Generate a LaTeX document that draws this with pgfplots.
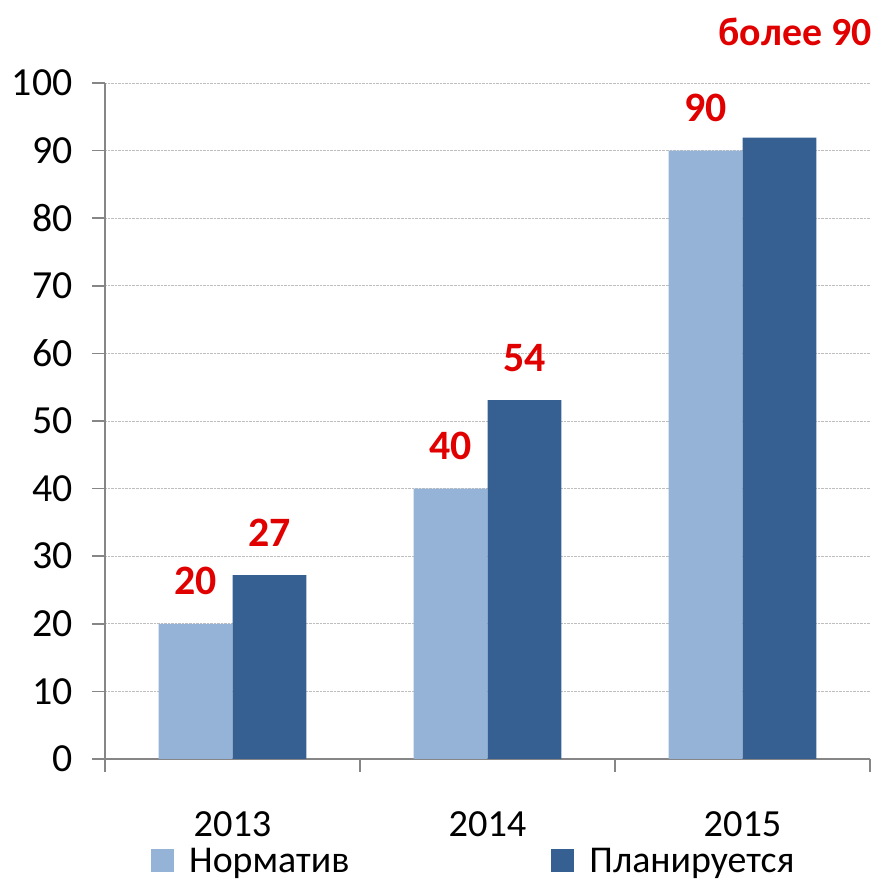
\documentclass[border=0pt]{standalone}
\usepackage{fontspec}
\setmainfont{Carlito}
\usepackage{pgfplots}
\pgfplotsset{compat=1.18}
\definecolor{lightbar}{RGB}{149,179,215}
\definecolor{darkbar}{RGB}{55,96,146}
\definecolor{axisgray}{RGB}{134,134,134}
\definecolor{gridgray}{RGB}{190,190,190}
\definecolor{labred}{RGB}{224,0,0}
\begin{document}
\begin{tikzpicture}
\path[use as bounding box] (0,0) rectangle (875bp,885bp);
\begin{axis}[
  name=ax,
  at={(105bp,126bp)}, anchor=south west,
  scale only axis, width=765bp, height=676bp,
  xmin=-0.5, xmax=2.5, ymin=0, ymax=100,
  ytick={0,10,...,100},
  xtick={-0.5,0.5,1.5,2.5}, xticklabels={},
  extra x ticks={0,1,2}, extra x tick labels={2013,2014,2015},
  extra x tick style={major tick length=0pt, grid=none,
     xticklabel style={anchor=base, yshift=-77bp, inner sep=0pt, text depth=0pt}},
  axis x line*=bottom, axis y line*=left,
  axis line style={-, draw=axisgray, line width=1.5bp},
  tick align=outside, major tick length=13bp,
  tick style={draw=axisgray, line width=1.5bp},
  ymajorgrids, xmajorgrids=false,
  major grid style={gridgray, densely dotted, line width=0.8bp},
  /pgf/number format/assume math mode=true,
  tick label style={font=\fontsize{40}{46}\selectfont},
  xticklabel style={font=\fontsize{38.5}{44}\selectfont},
  yticklabel style={anchor=east, xshift=-16bp},
  ybar=0pt, bar width=0.29,
  nodes near coords, point meta=explicit symbolic,
  every node near coord/.append style={anchor=base, yshift=29bp, text=labred,
     font=\fontsize{42}{48}\selectfont\bfseries},
  legend columns=2,
  legend style={draw=none, fill=none, at={(0,0)}, anchor=north west,
     xshift=43bp, yshift=-87bp, font=\fontsize{38}{44}\selectfont,
     nodes={inner ysep=0pt},
     /tikz/every even column/.append style={column sep=200bp}},
  legend cell align=left,
]
\addplot[fill=lightbar, draw=none,
  legend image code/.code={\fill[lightbar] (0bp,-11bp) rectangle (23bp,12bp); \path (36bp,0bp);}]
  coordinates {(0,20) [20] (1,40) [40] (2,90) [90]};
\addlegendentry{Норматив}
\addplot[fill=darkbar, draw=none,
  legend image code/.code={\fill[darkbar] (0bp,-11bp) rectangle (23bp,12bp); \path (36bp,0bp);}]
  coordinates {(0,27.2) [27] (1,53.1) [54] (2,91.9) []};
\addlegendentry{Планируется}
\end{axis}
\node[anchor=base east, text=labred, font=\fontsize{40}{46}\selectfont\bfseries, inner sep=0pt,
  xshift=2bp, yshift=37bp] at (ax.north east) {более 90};
\end{tikzpicture}
\end{document}
